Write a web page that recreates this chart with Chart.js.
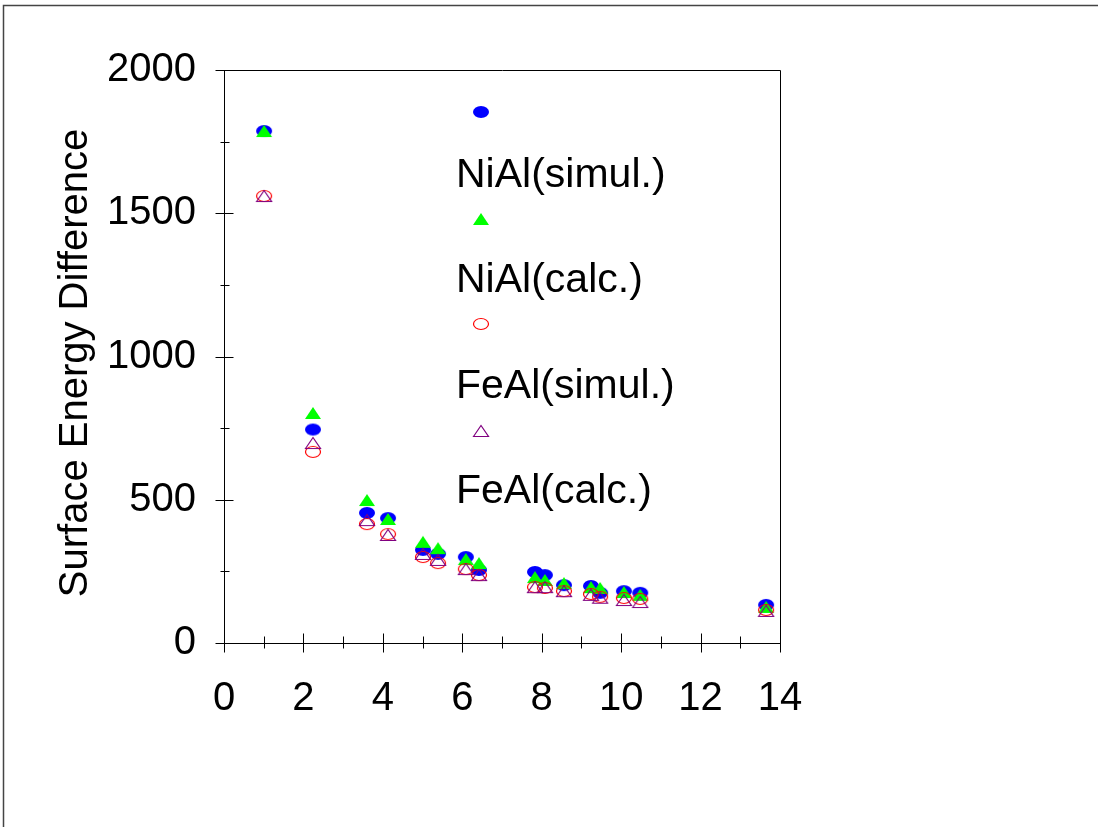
<!DOCTYPE html>
<html>
<head>
<meta charset="utf-8">
<title>Surface Energy Difference</title>
<script src="https://cdn.jsdelivr.net/npm/chart.js@4/dist/chart.umd.min.js"></script>
<style>
  html, body { margin: 0; padding: 0; background: #ffffff; }
  #chart { display: block; }
</style>
</head>
<body>
<canvas id="chart" width="1098" height="827"></canvas>
<script>
// Layer thickness (x) shared by all four series
const thickness = [1.01, 2.24, 3.60, 4.13, 5.01, 5.39, 6.09, 6.42, 7.83, 8.08, 8.56, 9.24, 9.47, 10.07, 10.48, 13.65];

const niAlSimul = [1787, 745, 454, 436, 325, 311, 300, 255, 248, 237, 202, 199, 175, 181, 175, 133];
const niAlCalc  = [1787, 803, 499, 433, 353, 331, 293, 279, 230, 220, 209, 195, 192, 178, 168, 126];
const feAlSimul = [1560, 667, 415, 380, 300, 279, 258, 237, 195, 192, 181, 171, 161, 157, 154, 115];
const feAlCalc  = [1560, 698, 429, 377, 311, 290, 258, 237, 195, 195, 181, 168, 158, 150, 143, 112];

const seriesNames = ['NiAl(simul.)', 'NiAl(calc.)', 'FeAl(simul.)', 'FeAl(calc.)'];

const xTicks = [0, 2, 4, 6, 8, 10, 12, 14];
const yTicks = [0, 500, 1000, 1500, 2000];

const FONT = "'Liberation Sans', Arial, sans-serif";

// Small bitmap markers so the dots can be slightly oval
function makeMarker(kind, color) {
  const c = document.createElement('canvas');
  c.width = 18; c.height = 14;
  const g = c.getContext('2d');
  g.beginPath();
  if (kind === 'dot' || kind === 'ring') {
    if (kind === 'dot') {
      g.ellipse(9, 7, 8, 6, 0, 0, Math.PI * 2);
      g.fillStyle = color; g.fill();
    } else {
      g.ellipse(9, 7, 7.5, 5.5, 0, 0, Math.PI * 2);
      g.strokeStyle = color; g.lineWidth = 1.2; g.stroke();
    }
  } else if (kind === 'tri') {
    g.moveTo(1, 13); g.lineTo(9, 1); g.lineTo(17, 13); g.closePath();
    g.fillStyle = color; g.fill();
  } else {
    g.moveTo(1.5, 12.5); g.lineTo(9, 1.5); g.lineTo(16.5, 12.5); g.closePath();
    g.strokeStyle = color; g.lineWidth = 1.2; g.stroke();
  }
  return c;
}

const markers = [
  makeMarker('dot', '#0000ff'),
  makeMarker('tri', '#00ff00'),
  makeMarker('ring', '#ff0000'),
  makeMarker('tri-open', '#800080')
];

function toPoints(ys) {
  return thickness.map((x, i) => ({ x: x, y: ys[i] }));
}

const seriesValues = [niAlSimul, niAlCalc, feAlSimul, feAlCalc];

const datasets = seriesValues.map((ys, i) => ({
  label: seriesNames[i],
  data: toPoints(ys),
  pointStyle: markers[i],
  pointRadius: 8,
  showLine: false,
  order: 4 - i
}));

// Axis box, crossing tick marks, axis title, legend and page frame
const decorations = {
  id: 'decorations',
  beforeDraw(chart) {
    const ctx = chart.ctx;
    ctx.save();
    ctx.fillStyle = '#ffffff';
    ctx.fillRect(0, 0, chart.width, chart.height);
    ctx.restore();
  },
  afterDraw(chart) {
    const ctx = chart.ctx;
    const a = chart.chartArea;
    const xs = chart.scales.x, ys = chart.scales.y;
    ctx.save();

    // page frame (top and left edges)
    ctx.strokeStyle = '#444444';
    ctx.lineWidth = 1.5;
    ctx.beginPath();
    ctx.moveTo(3.5, 827); ctx.lineTo(3.5, 5.5); ctx.lineTo(1098, 5.5);
    ctx.stroke();

    // plot box
    ctx.strokeStyle = '#000000';
    ctx.lineWidth = 1;
    const L = Math.round(a.left) + 0.5, R = Math.round(a.right) + 0.5;
    const T = Math.round(a.top) + 0.5, B = Math.round(a.bottom) + 0.5;
    ctx.beginPath();
    ctx.moveTo(L, T); ctx.lineTo(R, T); ctx.lineTo(R, B); ctx.lineTo(L, B); ctx.closePath();
    ctx.stroke();

    // x ticks: majors every 2, minors in between
    ctx.beginPath();
    for (let v = 0; v <= 14; v += 1) {
      const px = Math.round(xs.getPixelForValue(v)) + 0.5;
      const major = v % 2 === 0;
      ctx.moveTo(px, B - (major ? 10 : 7));
      ctx.lineTo(px, B + (major ? 9 : 5));
    }
    // y ticks: majors every 500, minors every 250
    for (let v = 0; v <= 2000; v += 250) {
      const py = Math.round(ys.getPixelForValue(v)) + 0.5;
      const major = v % 500 === 0;
      ctx.moveTo(L - (major ? 9 : 4), py);
      ctx.lineTo(L + (major ? 9 : 5), py);
    }
    ctx.stroke();

    // y-axis title
    ctx.fillStyle = '#000000';
    ctx.font = '40px ' + FONT;
    ctx.save();
    ctx.translate(87, 363);
    ctx.rotate(-Math.PI / 2);
    ctx.textAlign = 'center';
    ctx.textBaseline = 'alphabetic';
    ctx.fillText('Surface Energy Difference', 0, 0);
    ctx.restore();

    // legend: marker above each name
    const markerY = [112, 219, 324, 431];
    const textY = [187, 292, 398, 503];
    ctx.font = '41px ' + FONT;
    ctx.textAlign = 'left';
    ctx.textBaseline = 'alphabetic';
    for (let i = 0; i < seriesNames.length; i++) {
      const m = markers[i];
      ctx.drawImage(m, 481 - m.width / 2, markerY[i] - m.height / 2);
      ctx.fillText(seriesNames[i], 456, textY[i]);
    }
    ctx.restore();
  }
};

const plainNumber = v => String(v);

new Chart(document.getElementById('chart'), {
  type: 'scatter',
  data: { datasets: datasets },
  options: {
    responsive: false,
    maintainAspectRatio: false,
    animation: false,
    events: [],
    layout: { padding: { left: 0, top: 70, right: 318, bottom: 0 } },
    plugins: {
      legend: { display: false },
      tooltip: { enabled: false },
      title: { display: false }
    },
    scales: {
      x: {
        type: 'linear',
        min: 0, max: 14,
        afterBuildTicks(scale) { scale.ticks = xTicks.map(v => ({ value: v })); },
        ticks: { color: '#000000', font: { family: FONT, size: 40 }, padding: 32, maxRotation: 0, autoSkip: false, callback: plainNumber },
        grid: { display: false, drawTicks: false },
        border: { display: false },
        afterFit(scale) { scale.height = 184; }
      },
      y: {
        type: 'linear',
        min: 0, max: 2000,
        afterBuildTicks(scale) { scale.ticks = yTicks.map(v => ({ value: v })); },
        ticks: { color: '#000000', font: { family: FONT, size: 40 }, padding: 28, autoSkip: false, callback: plainNumber },
        grid: { display: false, drawTicks: false },
        border: { display: false },
        afterFit(scale) { scale.width = 224; }
      }
    }
  },
  plugins: [decorations]
});
</script>
</body>
</html>
